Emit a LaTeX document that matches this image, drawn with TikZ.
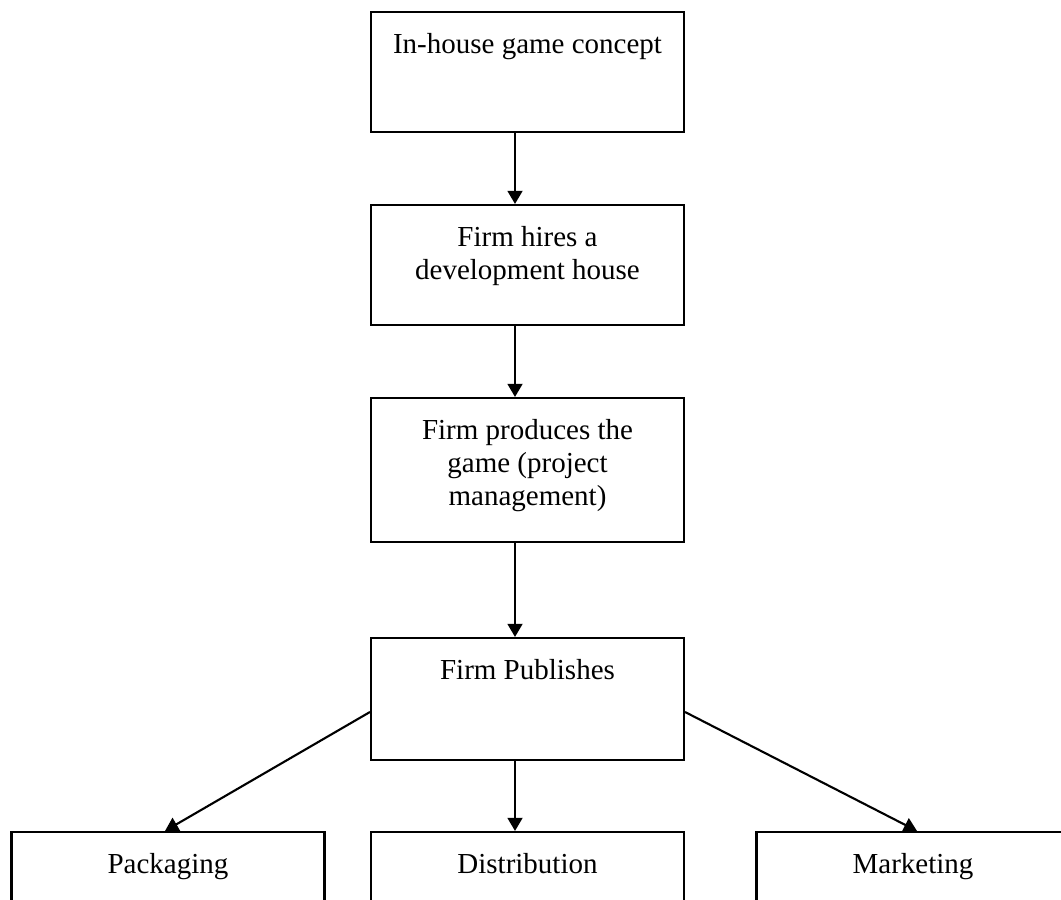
\documentclass[tikz,border=0pt]{standalone}
\usepackage{fontspec}
\setmainfont{Liberation Serif}
\usetikzlibrary{positioning, arrows.meta}

% box text sits at the top of the box
\newcommand{\stagetext}[2]{\parbox[c][#1][t]{6.26cm}{\centering\rule{0pt}{0.82cm}#2}}

\begin{document}
\begin{tikzpicture}[line width=1.2pt,
    stage/.style={draw, inner sep=0pt, font=\fontsize{16.5pt}{18.8pt}\selectfont},
    flow/.style={-{Triangle[length=7.5pt,width=8.5pt]}}]
  \clip (0,0) rectangle (21.22,-17.98);
  % main chain
  \node[stage] (concept) at (10.55,-1.44) {\stagetext{2.4cm}{In-house game concept}};
  \node[stage] (hire) at (10.55,-5.3) {\stagetext{2.4cm}{Firm hires a\\ development house}};
  \node[stage] (produce) at (10.55,-9.4) {\stagetext{2.88cm}{Firm produces the\\ game (project\\ management)}};
  \node[stage] (publish) at (10.55,-13.98) {\stagetext{2.44cm}{Firm Publishes}};
  % bottom row
  \node[stage] (packaging) at (3.36,-17.84) {\stagetext{2.4cm}{Packaging}};
  \node[stage] (distribution) at (10.55,-17.84) {\stagetext{2.4cm}{Distribution}};
  \node[stage] (marketing) at (18.26,-17.84) {\stagetext{2.4cm}{Marketing}};

  \draw[flow] ([xshift=-0.25cm]concept.south) -- ([xshift=-0.25cm]hire.north);
  \draw[flow] ([xshift=-0.25cm]hire.south) -- ([xshift=-0.25cm]produce.north);
  \draw[flow] ([xshift=-0.25cm]produce.south) -- ([xshift=-0.25cm]publish.north);
  \draw[flow] ([xshift=-0.25cm]publish.south) -- ([xshift=-0.25cm]distribution.north);
  \draw[flow] ([yshift=-0.26cm]publish.west) -- ([xshift=-0.06cm]packaging.north);
  \draw[flow] ([yshift=-0.26cm]publish.east) -- ([xshift=0.08cm]marketing.north);
\end{tikzpicture}
\end{document}
